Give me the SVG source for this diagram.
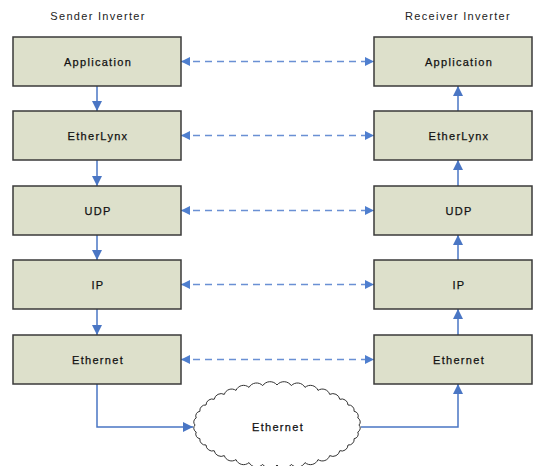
<svg xmlns="http://www.w3.org/2000/svg" width="533" height="466" viewBox="0 0 533 466">
<style>
.box{fill:#dde0cb;stroke:#3a3a3a;stroke-width:1.5}
.lbl{font-family:"Liberation Sans",Arial,sans-serif;font-size:11px;fill:#111;stroke:#111;stroke-width:0.25;text-anchor:middle;letter-spacing:1.3px}
.ttl{font-family:"Liberation Sans",Arial,sans-serif;font-size:11px;fill:#222;text-anchor:middle;letter-spacing:1.3px}
.solid{fill:none;stroke:#4a76c4;stroke-width:1.5}
.dash{fill:none;stroke:#6a90d4;stroke-width:1.3;stroke-dasharray:7 5}
.cloud{fill:#fff;stroke:#333;stroke-width:1}
</style>
<defs>
<marker id="ah" viewBox="0 0 10 10" refX="10" refY="5" markerWidth="10" markerHeight="10" markerUnits="userSpaceOnUse" orient="auto-start-reverse">
<path d="M0,0 L10,5 L0,10 z" fill="#4a76c4"/>
</marker>
<marker id="ahd" viewBox="0 0 10 10" refX="10" refY="5" markerWidth="12" markerHeight="9" markerUnits="userSpaceOnUse" orient="auto-start-reverse">
<path d="M0,0 L10,5 L0,10 z" fill="#4f7fcf"/>
</marker>
</defs>
<rect width="533" height="466" fill="#fff"/>
<text class="ttl" x="98" y="20">Sender Inverter</text>
<text class="ttl" x="458" y="20">Receiver Inverter</text>

<g id="connectors">
<line class="solid" x1="97" y1="86" x2="97" y2="111" marker-end="url(#ah)"/>
<line class="solid" x1="97" y1="160" x2="97" y2="186" marker-end="url(#ah)"/>
<line class="solid" x1="97" y1="235" x2="97" y2="260" marker-end="url(#ah)"/>
<line class="solid" x1="97" y1="309" x2="97" y2="335" marker-end="url(#ah)"/>
<line class="solid" x1="458" y1="111" x2="458" y2="86" marker-end="url(#ah)"/>
<line class="solid" x1="458" y1="186" x2="458" y2="160" marker-end="url(#ah)"/>
<line class="solid" x1="458" y1="260" x2="458" y2="235" marker-end="url(#ah)"/>
<line class="solid" x1="458" y1="335" x2="458" y2="309" marker-end="url(#ah)"/>
<line class="dash" x1="181" y1="61.5" x2="374" y2="61.5" marker-start="url(#ahd)" marker-end="url(#ahd)"/>
<line class="dash" x1="181" y1="135.5" x2="374" y2="135.5" marker-start="url(#ahd)" marker-end="url(#ahd)"/>
<line class="dash" x1="181" y1="210.5" x2="374" y2="210.5" marker-start="url(#ahd)" marker-end="url(#ahd)"/>
<line class="dash" x1="181" y1="284.5" x2="374" y2="284.5" marker-start="url(#ahd)" marker-end="url(#ahd)"/>
<line class="dash" x1="181" y1="359.5" x2="374" y2="359.5" marker-start="url(#ahd)" marker-end="url(#ahd)"/>
<path class="solid" d="M97,384 V427 H193" marker-end="url(#ah)"/>
<path class="solid" d="M361,427 H458 V384" marker-end="url(#ah)"/>
</g>

<g id="s-app"><rect class="box" x="13" y="37" width="168" height="49"/><text class="lbl" x="98" y="65.5">Application</text></g>
<g id="s-etherlynx"><rect class="box" x="13" y="111" width="168" height="49"/><text class="lbl" x="98" y="139.5">EtherLynx</text></g>
<g id="s-udp"><rect class="box" x="13" y="186" width="168" height="49"/><text class="lbl" x="98" y="214.5">UDP</text></g>
<g id="s-ip"><rect class="box" x="13" y="260" width="168" height="49"/><text class="lbl" x="98" y="288.5">IP</text></g>
<g id="s-eth"><rect class="box" x="13" y="335" width="168" height="49"/><text class="lbl" x="98" y="363.5">Ethernet</text></g>

<g id="r-app"><rect class="box" x="374" y="37" width="158" height="49"/><text class="lbl" x="459" y="65.5">Application</text></g>
<g id="r-etherlynx"><rect class="box" x="374" y="111" width="158" height="49"/><text class="lbl" x="459" y="139.5">EtherLynx</text></g>
<g id="r-udp"><rect class="box" x="374" y="186" width="158" height="49"/><text class="lbl" x="459" y="214.5">UDP</text></g>
<g id="r-ip"><rect class="box" x="374" y="260" width="158" height="49"/><text class="lbl" x="459" y="288.5">IP</text></g>
<g id="r-eth"><rect class="box" x="374" y="335" width="158" height="49"/><text class="lbl" x="459" y="363.5">Ethernet</text></g>

<g id="cloud">
<path class="cloud" d="M359,425 A4.4 4.4 0 0 1 357.8,432 A4.7 4.7 0 0 1 354.1,438.7 A5.5 5.5 0 0 1 348,445 A6.2 6.2 0 0 1 339.8,450.7 A7 7 0 0 1 329.7,455.6 A7.7 7.7 0 0 1 318,459.6 A8.2 8.2 0 0 1 305,462.6 A8.6 8.6 0 0 1 291.3,464.4 A8.9 8.9 0 0 1 277,465 A8.9 8.9 0 0 1 262.7,464.4 A8.6 8.6 0 0 1 249,462.6 A8.2 8.2 0 0 1 236,459.6 A7.7 7.7 0 0 1 224.3,455.6 A7 7 0 0 1 214.2,450.7 A6.2 6.2 0 0 1 206,445 A5.5 5.5 0 0 1 199.9,438.7 A4.7 4.7 0 0 1 196.2,432 A4.4 4.4 0 0 1 195,425 A4.4 4.4 0 0 1 196.2,418 A4.7 4.7 0 0 1 199.9,411.3 A5.5 5.5 0 0 1 206,405 A6.2 6.2 0 0 1 214.2,399.3 A7 7 0 0 1 224.3,394.4 A7.7 7.7 0 0 1 236,390.4 A8.2 8.2 0 0 1 249,387.4 A8.6 8.6 0 0 1 262.7,385.6 A8.9 8.9 0 0 1 277,385 A8.9 8.9 0 0 1 291.3,385.6 A8.6 8.6 0 0 1 305,387.4 A8.2 8.2 0 0 1 318,390.4 A7.7 7.7 0 0 1 329.7,394.4 A7 7 0 0 1 339.8,399.3 A6.2 6.2 0 0 1 348,405 A5.5 5.5 0 0 1 354.1,411.3 A4.7 4.7 0 0 1 357.8,418 A4.4 4.4 0 0 1 359,425 Z"/>
<text class="lbl" x="278" y="431">Ethernet</text>
</g>
</svg>
